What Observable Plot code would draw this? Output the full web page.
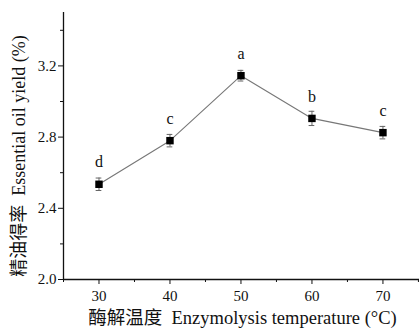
<!DOCTYPE html>
<html><head><meta charset="utf-8">
<script src="https://cdn.jsdelivr.net/npm/d3@7"></script>
<script src="https://cdn.jsdelivr.net/npm/@observablehq/plot@0.6"></script>
<style>body{margin:0;background:#fff}</style>
</head><body><div id="chart"></div>
<script>
const temps = [30, 40, 50, 60, 70];
const yields = [2.535, 2.78, 3.145, 2.905, 2.825];
const errs = [0.035, 0.035, 0.03, 0.04, 0.035];
const letters = ["d", "c", "a", "b", "c"];
const xTicks = [30, 40, 50, 60, 70];
const xMinor = [25, 35, 45, 55, 65, 75];
const yTicks = [2.0, 2.4, 2.8, 3.2];
const yMinor = [2.2, 2.6, 3.0, 3.4];

const data = temps.map((t, i) => ({t, y: yields[i], e: errs[i], l: letters[i]}));
const F = "Liberation Serif, Times New Roman, Noto Sans CJK SC, serif";

const plot = Plot.plot({
  width: 420, height: 328,
  marginLeft: 63, marginRight: 1, marginTop: 12, marginBottom: 49,
  style: {fontFamily: F, fontSize: "15px", color: "#111", background: "#fff"},
  x: {domain: [25, 75.15]},
  y: {domain: [2.0, 3.5]},
  marks: [
    Plot.axisX({ticks: xTicks, tickSize: 5, tickPadding: 6, tickFormat: d => d, fontSize: 15, label: null}),
    Plot.axisX({ticks: xMinor, tickSize: 3, text: null, label: null}),
    Plot.axisY({ticks: yTicks, tickSize: 5, tickPadding: 2, tickFormat: d3.format(".1f"), fontSize: 15, label: null}),
    Plot.axisY({ticks: yMinor, tickSize: 3, text: null, label: null}),
    Plot.ruleY([2.0], {stroke: "#111", strokeWidth: 1.3}),
    Plot.ruleX([25], {stroke: "#111", strokeWidth: 1.3}),
    Plot.line(data, {x: "t", y: "y", stroke: "#777", strokeWidth: 1.1}),
    Plot.ruleX(data, {x: "t", y1: d => d.y - d.e, y2: d => d.y + d.e, stroke: "#666", strokeWidth: 1}),
    Plot.ruleY(data, {y: d => d.y + d.e, x1: d => d.t - 0.4, x2: d => d.t + 0.4, stroke: "#666", strokeWidth: 1}),
    Plot.ruleY(data, {y: d => d.y - d.e, x1: d => d.t - 0.4, x2: d => d.t + 0.4, stroke: "#666", strokeWidth: 1}),
    Plot.dot(data, {x: "t", y: "y", symbol: "square", r: 4.2, fill: "#000", stroke: "none"}),
    Plot.text(data, {x: "t", y: "y", text: "l", dy: -22, fontSize: 16, fill: "#111"}),
    Plot.text(["精油得率  Essential oil yield (%)"], {frameAnchor: "left", textAnchor: "middle", dx: -44, dy: 10, rotate: -90, fontSize: 18, fill: "#111", fontFamily: F}),
    Plot.text(["酶解温度  Enzymolysis temperature (°C)"], {frameAnchor: "bottom", lineAnchor: "middle", dy: 39, dx: 1, fontSize: 18.5, fill: "#111", fontFamily: F})
  ]
});
document.getElementById("chart").appendChild(plot);
</script>
</body></html>
